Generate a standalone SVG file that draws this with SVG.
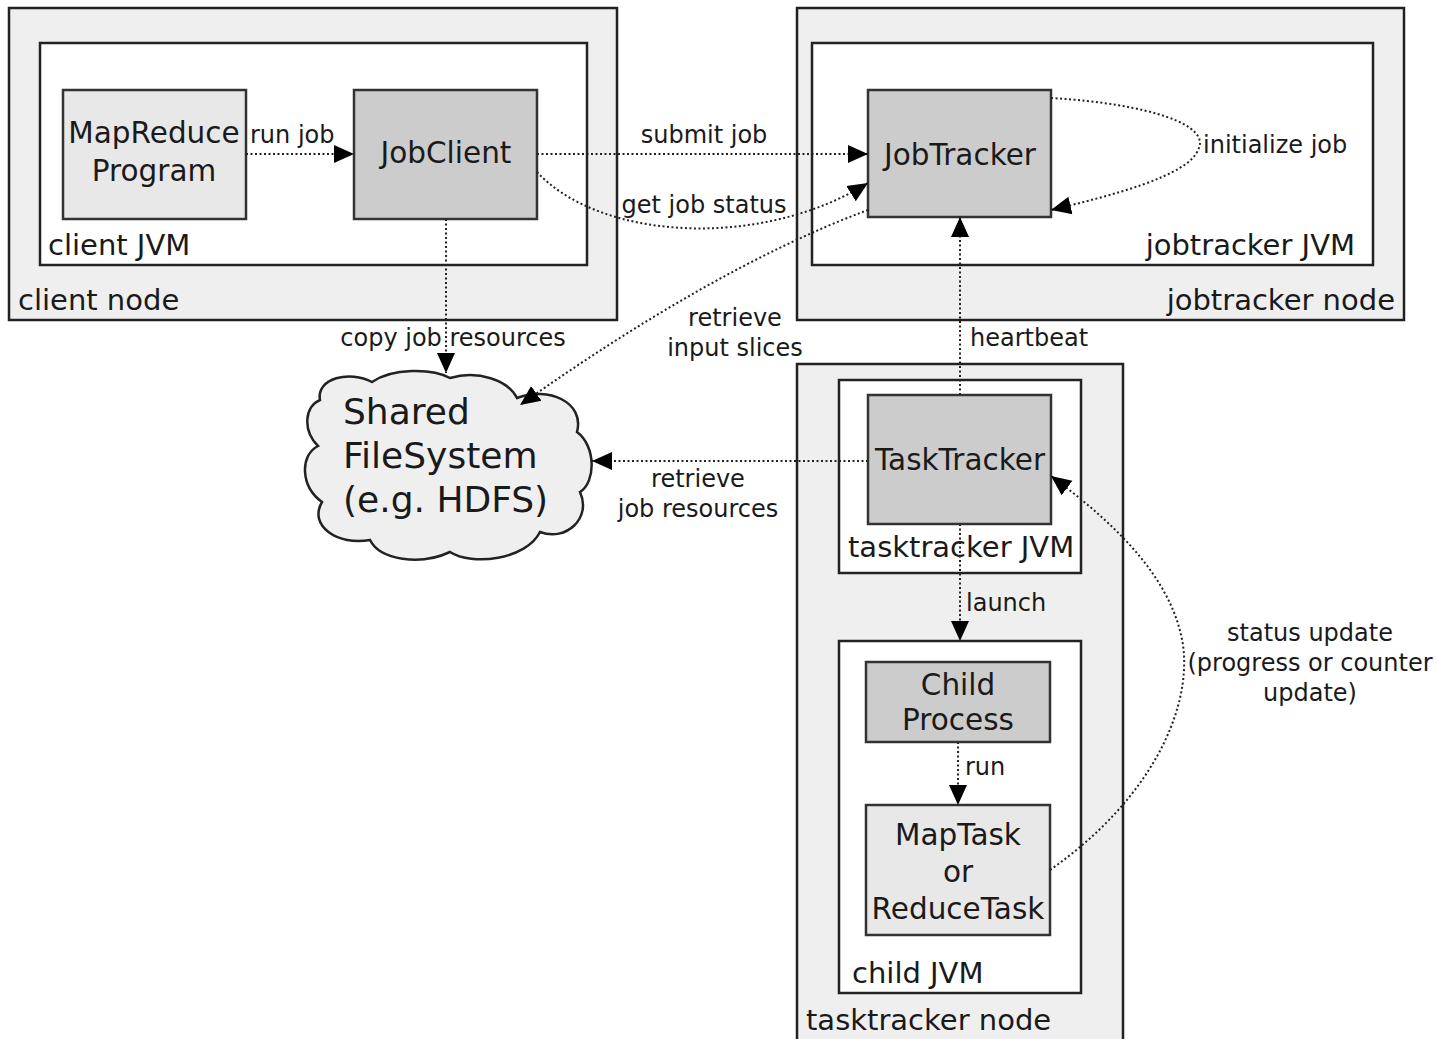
<svg xmlns="http://www.w3.org/2000/svg" width="1437" height="1039" viewBox="0 0 1437 1039">
  <defs>
    <marker id="arrow" markerUnits="userSpaceOnUse" markerWidth="22" markerHeight="20" refX="20" refY="10" orient="auto">
      <path d="M0,1 L20,10 L0,19 Z" fill="#000"/>
    </marker>
    <style>
      .host { fill: #efefef; stroke: #222; stroke-width: 2.5; }
      .jvm { fill: #fff; stroke: #222; stroke-width: 2.5; }
      .dark { fill: #cccccc; stroke: #333; stroke-width: 2.5; }
      .light { fill: #e8e8e8; stroke: #333; stroke-width: 2.5; }
      text { font-family: "DejaVu Sans", "Noto Sans", sans-serif; fill: #1a1a1a; }
      .big { font-size: 29px; }
      .box { font-size: 29.5px; text-anchor: middle; }
      .lbl { font-size: 24px; }
      .mid { text-anchor: middle; }
      .end { text-anchor: end; }
      .cloudtxt { font-size: 36px; }
      .link { fill: none; stroke: #222; stroke-width: 2; stroke-dasharray: 2 2.5; }
    </style>
  </defs>

  <rect width="1437" height="1039" fill="#fff"/>

  <!-- client host -->
  <g id="client-node">
    <rect class="host" x="9" y="8" width="608" height="312"/>
    <text class="big" x="18" y="310">client node</text>
  </g>
  <g id="client-jvm">
    <rect class="jvm" x="40" y="43" width="547" height="222"/>
    <text class="big" x="48" y="255">client JVM</text>
  </g>
  <g id="mapreduce-program">
    <rect class="light" x="63" y="90" width="183" height="129"/>
    <text class="box" x="154" y="143">MapReduce</text>
    <text class="box" x="154" y="181">Program</text>
  </g>
  <g id="jobclient">
    <rect class="dark" x="354" y="90" width="183" height="129"/>
    <text class="box" x="446" y="163">JobClient</text>
  </g>

  <!-- jobtracker host -->
  <g id="jobtracker-node">
    <rect class="host" x="797" y="8" width="607" height="312"/>
    <text class="big end" x="1395" y="310">jobtracker node</text>
  </g>
  <g id="jobtracker-jvm">
    <rect class="jvm" x="812" y="43" width="561" height="222"/>
    <text class="big end" x="1355" y="255">jobtracker JVM</text>
  </g>
  <g id="jobtracker">
    <rect class="dark" x="868" y="90" width="183" height="127"/>
    <text class="box" x="960" y="165">JobTracker</text>
  </g>

  <!-- tasktracker host -->
  <g id="tasktracker-node">
    <rect class="host" x="797" y="364" width="326" height="690"/>
    <text class="big" x="806" y="1030">tasktracker node</text>
  </g>
  <g id="tasktracker-jvm">
    <rect class="jvm" x="839" y="380" width="242" height="193"/>
    <text class="big" x="848" y="557">tasktracker JVM</text>
  </g>
  <g id="tasktracker">
    <rect class="dark" x="868" y="395" width="183" height="129"/>
    <text class="box" x="960" y="470">TaskTracker</text>
  </g>
  <g id="child-jvm">
    <rect class="jvm" x="839" y="641" width="242" height="352"/>
    <text class="big" x="852" y="983">child JVM</text>
  </g>
  <g id="child-process">
    <rect class="dark" x="866" y="662" width="184" height="80"/>
    <text class="box" x="958" y="695">Child</text>
    <text class="box" x="958" y="730">Process</text>
  </g>
  <g id="task">
    <rect class="light" x="866" y="805" width="184" height="130"/>
    <text class="box" x="958" y="845">MapTask</text>
    <text class="box" x="958" y="882">or</text>
    <text class="box" x="958" y="919">ReduceTask</text>
  </g>

  <!-- shared filesystem cloud -->
  <g id="shared-filesystem">
    <path d="M 320 400 C 316 378, 350 370, 372 382 C 392 368, 432 368, 450 378 C 478 370, 508 380, 517 398 C 548 386, 585 402, 577 432 C 596 446, 596 482, 580 492 C 592 518, 566 542, 540 532 C 526 560, 472 566, 450 552 C 420 566, 380 560, 370 540 C 338 546, 308 526, 322 502 C 300 486, 300 455, 318 446 C 302 430, 305 406, 320 400 Z" fill="#efefef" stroke="#222" stroke-width="2.5"/>
    <text class="cloudtxt" x="343" y="424">Shared</text>
    <text class="cloudtxt" x="343" y="468">FileSystem</text>
    <text class="cloudtxt" x="343" y="512">(e.g. HDFS)</text>
  </g>

  <!-- connectors -->
  <g id="connectors">
    <path class="link" d="M 246 154 L 354 154" marker-end="url(#arrow)"/>
    <path class="link" d="M 537 154 L 868 154" marker-end="url(#arrow)"/>
    <path class="link" d="M 537 172 C 600 240, 760 250, 868 183" marker-end="url(#arrow)"/>
    <path class="link" d="M 1051 98 C 1150 104, 1212 125, 1198 150 C 1188 176, 1110 196, 1051 210" marker-end="url(#arrow)"/>
    <path class="link" d="M 868 210 C 760 250, 640 320, 520 405" marker-end="url(#arrow)"/>
    <path class="link" d="M 446 219 L 446 373" marker-end="url(#arrow)"/>
    <path class="link" d="M 960 395 L 960 217" marker-end="url(#arrow)"/>
    <path class="link" d="M 868 461 L 592 461" marker-end="url(#arrow)"/>
    <path class="link" d="M 960 524 L 960 641" marker-end="url(#arrow)"/>
    <path class="link" d="M 958 742 L 958 805" marker-end="url(#arrow)"/>
    <path class="link" d="M 1050 870 C 1150 800, 1192 710, 1183 645 C 1172 575, 1110 520, 1051 476" marker-end="url(#arrow)"/>

    <text class="lbl" x="250" y="143">run job</text>
    <text class="lbl mid" x="704" y="143">submit job</text>
    <text class="lbl mid" x="704" y="213">get job status</text>
    <text class="lbl" x="1203" y="153">initialize job</text>
    <text class="lbl mid" x="735" y="326">retrieve</text>
    <text class="lbl mid" x="735" y="356">input slices</text>
    <text class="lbl mid" x="453" y="346">copy job resources</text>
    <text class="lbl" x="970" y="346">heartbeat</text>
    <text class="lbl mid" x="698" y="487">retrieve</text>
    <text class="lbl mid" x="698" y="517">job resources</text>
    <text class="lbl" x="966" y="611">launch</text>
    <text class="lbl" x="965" y="775">run</text>
    <text class="lbl mid" x="1310" y="641">status update</text>
    <text class="lbl mid" x="1310" y="671">(progress or counter</text>
    <text class="lbl mid" x="1310" y="701">update)</text>
  </g>
</svg>
